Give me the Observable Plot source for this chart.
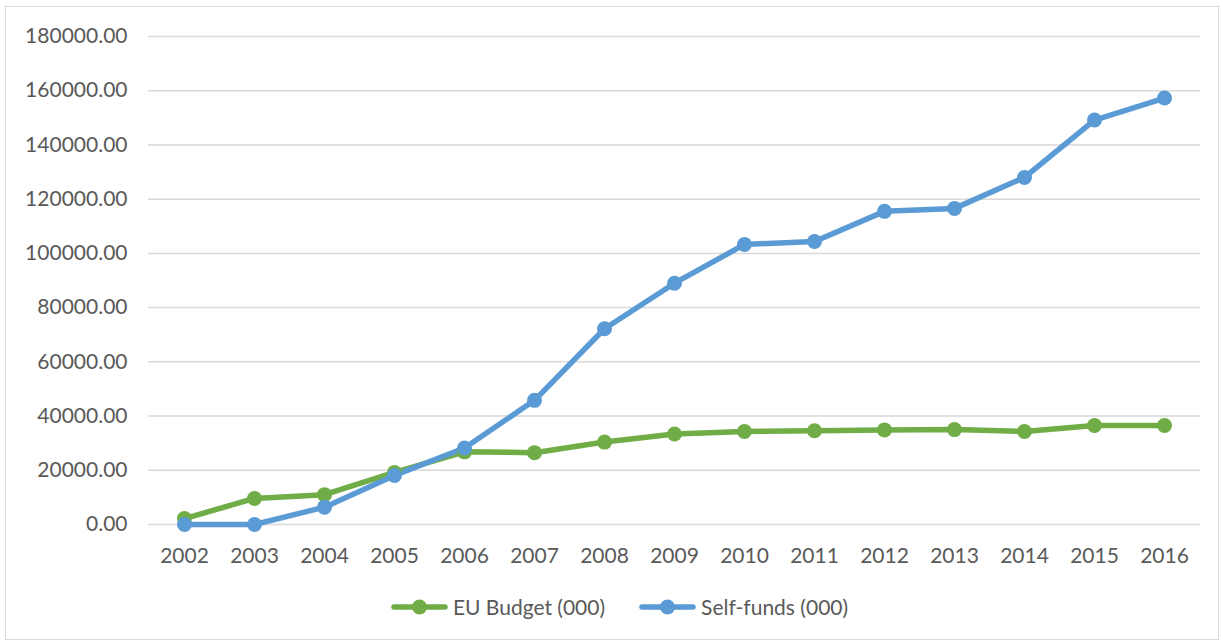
<!DOCTYPE html>
<html>
<head>
<meta charset="utf-8">
<script src="https://cdn.jsdelivr.net/npm/d3@7"></script>
<script src="https://cdn.jsdelivr.net/npm/@observablehq/plot@0.6"></script>
<style>
  html, body { margin: 0; padding: 0; background: #fff; }
  body { width: 1223px; height: 644px; position: relative; overflow: hidden; font-family: Lato, "Open Sans", sans-serif; }
  #frame { position: absolute; left: 5px; top: 6px; width: 1214px; height: 634px; border: 1px solid #d9d9d9; box-sizing: border-box; }
  #chart { position: absolute; left: 0; top: 0; }
  #legend { position: absolute; top: 594px; left: 0; width: 1223px; display: flex; justify-content: center; gap: 34px; font-size: 21px; color: #595959; padding-left: 16px; box-sizing: border-box; }
  .item { display: flex; align-items: center; gap: 5px; }
</style>
</head>
<body>
<div id="frame"></div>
<div id="chart"></div>
<div id="legend"></div>
<script>
const years = ["2002","2003","2004","2005","2006","2007","2008","2009","2010","2011","2012","2013","2014","2015","2016"];
const euBudget = [2200, 9600, 11000, 19200, 26800, 26500, 30400, 33400, 34300, 34600, 34900, 35000, 34300, 36500, 36500];
const selfFunds = [0, 0, 6400, 18100, 28200, 45800, 72200, 89000, 103300, 104400, 115500, 116600, 128000, 149200, 157300];
const seriesNames = ["EU Budget (000)", "Self-funds (000)"];
const seriesColors = ["#70ad47", "#5b9bd5"];
const yTicks = [0, 20000, 40000, 60000, 80000, 100000, 120000, 140000, 160000, 180000];

const data = [];
years.forEach((y, i) => {
  data.push({year: y, value: euBudget[i], series: seriesNames[0]});
});
years.forEach((y, i) => {
  data.push({year: y, value: selfFunds[i], series: seriesNames[1]});
});

const plot = Plot.plot({
  width: 1223,
  height: 580,
  marginLeft: 148,
  marginRight: 23,
  marginTop: 36,
  marginBottom: 56,
  style: {fontFamily: "Lato, 'Open Sans', sans-serif", fontSize: "21px", color: "#595959", background: "transparent"},
  x: {type: "point", domain: years, padding: 0.5, label: null, tickSize: 0, tickPadding: 24},
  y: {domain: [0, 180000], ticks: yTicks, tickFormat: d => d.toFixed(2), label: null, tickSize: 0, tickPadding: 21},
  color: {domain: seriesNames, range: seriesColors},
  marks: [
    Plot.ruleY(yTicks, {stroke: "#d9d9d9", strokeWidth: 1.5}),
    Plot.line(data, {x: "year", y: "value", z: "series", stroke: "series", strokeWidth: 5.5, strokeLinejoin: "round", strokeLinecap: "round"}),
    Plot.dot(data, {x: "year", y: "value", fill: "series", r: 7.5, stroke: null})
  ]
});
document.getElementById("chart").appendChild(plot);

const legend = document.getElementById("legend");
seriesNames.forEach((name, i) => {
  const item = document.createElement("div");
  item.className = "item";
  item.innerHTML = `<svg width="57" height="16"><line x1="3" y1="8" x2="54" y2="8" stroke="${seriesColors[i]}" stroke-width="5.5" stroke-linecap="round"/><circle cx="28.5" cy="8" r="7.5" fill="${seriesColors[i]}"/></svg><span>${name}</span>`;
  legend.appendChild(item);
});
</script>
</body>
</html>
